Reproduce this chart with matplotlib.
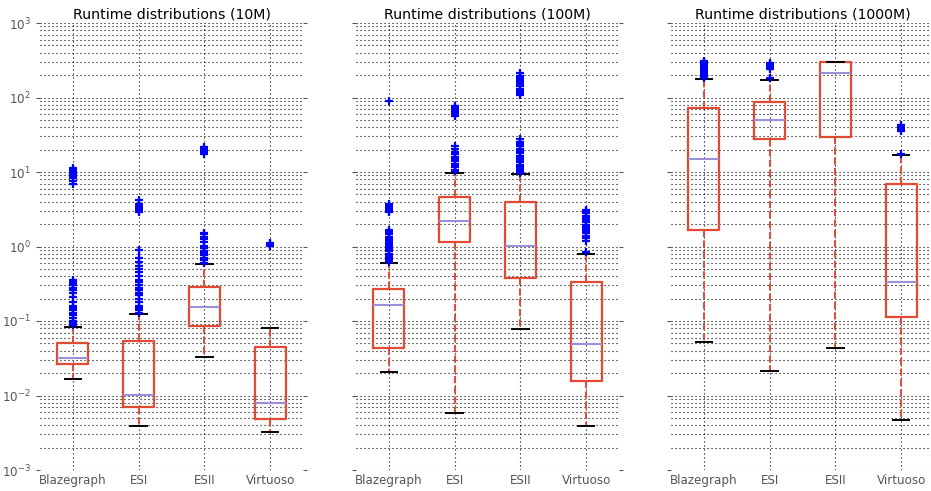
import numpy as np
import matplotlib
matplotlib.use('Agg')
import matplotlib.pyplot as plt

# values (seconds, log scale)
engines	= ['Blazegraph', 'ESI', 'ESII', 'Virtuoso']
sizes	= ['10M', '100M', '1000M']

q1_10M		= [0.0265, 0.00695, 0.0865, 0.00489]
med_10M		= [0.0321, 0.0102, 0.154, 0.00794]
q3_10M		= [0.0507, 0.0545, 0.286, 0.0444]
wlo_10M		= [0.0165, 0.00394, 0.0326, 0.00324]
whi_10M		= [0.0838, 0.124, 0.582, 0.0798]
fl_10M		= [
	[0.088, 0.095, 0.10, 0.11, 0.12, 0.13, 0.14, 0.15, 0.16, 0.18, 0.21, 0.24, 0.26, 0.28, 0.30, 0.32, 0.34, 0.36,
	 7.0, 7.6, 8.2, 8.8, 9.4, 10.0, 10.6, 11.3],
	[0.13, 0.14, 0.15, 0.16, 0.18, 0.20, 0.22, 0.24, 0.26, 0.28, 0.30, 0.33, 0.36, 0.40, 0.45, 0.50, 0.55, 0.62, 0.70, 0.90,
	 2.9, 3.1, 3.3, 3.5, 3.7, 4.2],
	[0.60, 0.65, 0.70, 0.76, 0.82, 0.88, 0.95, 1.02, 1.15, 1.25, 1.35, 1.45, 1.52,
	 17.5, 18.5, 19.5, 20.5, 21.5],
	[1.03, 1.07, 1.11],
]

q1_100M		= [0.0434, 1.16, 0.378, 0.0157]
med_100M	= [0.166, 2.22, 1.02, 0.0496]
q3_100M		= [0.269, 4.67, 3.92, 0.330]
wlo_100M	= [0.0207, 0.00577, 0.0782, 0.00394]
whi_100M	= [0.601, 9.8, 9.3, 0.80]
fl_100M		= [
	[0.62, 0.66, 0.70, 0.75, 0.80, 0.86, 0.92, 0.98, 1.05, 1.12, 1.20, 1.28, 1.36, 1.45, 1.55, 1.65,
	 2.9, 3.1, 3.3, 3.5, 3.7, 89.0],
	[10.2, 10.8, 11.5, 12.2, 13.0, 14.0, 15.0, 16.0, 17.2, 18.5, 20.5, 22.0,
	 56, 60, 64, 68, 72, 77],
	[9.6, 10.3, 11.0, 11.8, 12.6, 13.5, 14.5, 15.5, 16.6, 17.8, 19.0, 20.4, 22.0, 23.6, 25.3, 28.0,
	 108, 116, 124, 132, 141, 150, 160, 170, 181, 193, 211],
	[0.84, 1.2, 1.3, 1.4, 1.5, 1.6, 1.7, 1.8, 1.95, 2.1, 2.25, 2.4, 2.6, 2.8, 3.0, 3.1],
]

q1_1000M	= [1.66, 27.7, 29.8, 0.112]
med_1000M	= [14.9, 50.4, 215, 0.333]
q3_1000M	= [73, 87.9, 297, 6.84]
wlo_1000M	= [0.0527, 0.0213, 0.0435, 0.00473]
whi_1000M	= [177, 172, 297, 16.9]
fl_1000M	= [
	[180, 190, 200, 212, 225, 238, 252, 267, 283, 300, 309],
	[180, 245, 255, 265, 275, 288],
	[],
	[17.3, 36, 38, 40, 42.5],
]

panels	= [
	(q1_10M, med_10M, q3_10M, wlo_10M, whi_10M, fl_10M),
	(q1_100M, med_100M, q3_100M, wlo_100M, whi_100M, fl_100M),
	(q1_1000M, med_1000M, q3_1000M, wlo_1000M, whi_1000M, fl_1000M),
]

red	= '#E24A33'
purple	= '#9A90DC'
gray	= '#555555'
dots	= (0, (1, 2.6))

W, H	= 931., 491.
fig	= plt.figure(figsize=(W/100., H/100.), dpi=100)
lefts	= [40, 356, 671]
axw	= 263
bot, top = 470, 23

for i, (size, (q1, med, q3, wlo, whi, fl)) in enumerate(zip(sizes, panels)):
	ax	= fig.add_axes([lefts[i]/W, (H-bot)/H, axw/W, (bot-top)/H])
	stats	= [dict(q1=a, med=b, q3=c, whislo=d, whishi=e, fliers=f, label=l)
		   for a, b, c, d, e, f, l in zip(q1, med, q3, wlo, whi, fl, engines)]
	ax.bxp(stats, widths=0.47, capwidths=0.25,
	       boxprops=dict(color=red, lw=1.6),
	       whiskerprops=dict(color=red, lw=1.4, ls='--'),
	       capprops=dict(color='k', lw=1.4),
	       medianprops=dict(color=purple, lw=1.5),
	       flierprops=dict(marker='+', markeredgecolor='b', markersize=6, markeredgewidth=1.6, linestyle='none'))
	ax.set_yscale('log')
	ax.set_ylim(1e-3, 1e3)
	ax.set_xlim(0.5, 4.5)
	ax.set_title('Runtime distributions (%s)' % size, fontsize=10.2, pad=3)
	ax.grid(True, which='both', axis='y', color='k', ls=dots, lw=0.8)
	ax.grid(True, which='major', axis='x', color='k', ls=dots, lw=0.8)
	ax.set_axisbelow(True)
	for s in ax.spines.values(): s.set_visible(False)
	ax.tick_params(axis='x', length=0, labelsize=8.6, labelcolor=gray, pad=3)
	ax.tick_params(axis='y', which='major', length=3, color=gray, direction='out',
		       left=True, right=True, labelsize=8.6, labelcolor=gray)
	ax.tick_params(axis='y', which='minor', length=0)
	if i > 0: ax.set_yticklabels([])

plt.savefig('out.png', dpi=100)
